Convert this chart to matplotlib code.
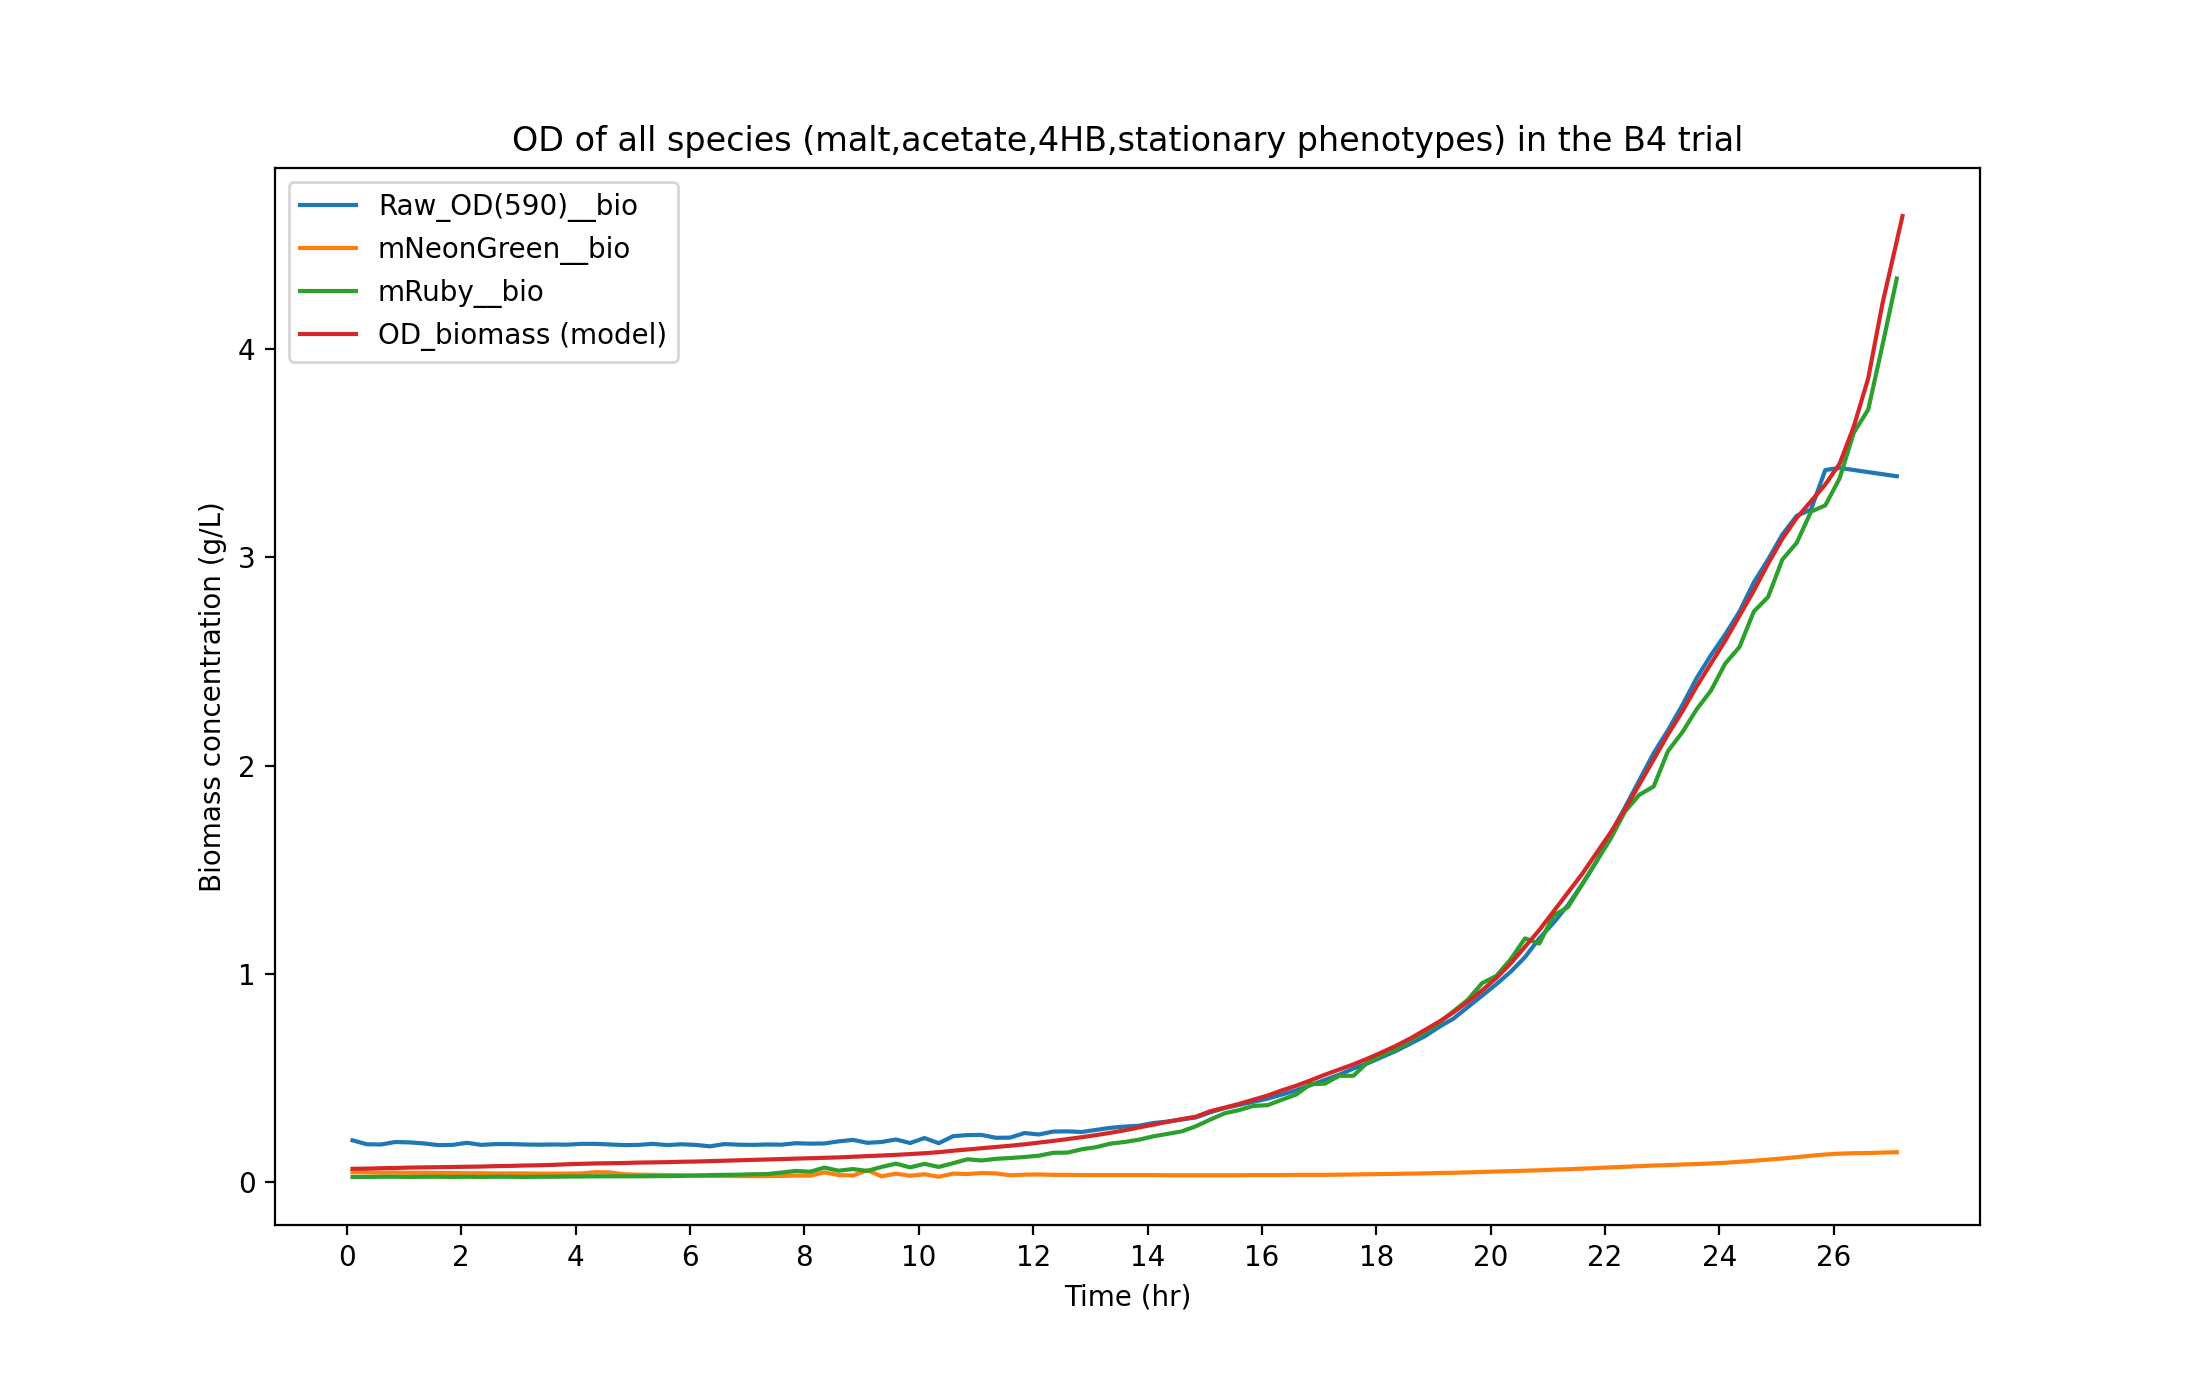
import numpy as np
import matplotlib.pyplot as plt

# sampling grid (hours), every 15 min
time = np.arange(109) * 0.25 + 0.1

raw_od = [
    0.200, 0.181, 0.180, 0.192, 0.190, 0.185, 0.177, 0.178, 0.188, 0.178,
    0.182, 0.182, 0.180, 0.179, 0.180, 0.179, 0.183, 0.183, 0.180, 0.177,
    0.178, 0.183, 0.177, 0.181, 0.178, 0.171, 0.182, 0.179, 0.178, 0.180,
    0.179, 0.186, 0.184, 0.185, 0.195, 0.202, 0.188, 0.192, 0.204, 0.187,
    0.211, 0.186, 0.220, 0.225, 0.226, 0.212, 0.213, 0.235, 0.228, 0.242,
    0.243, 0.240, 0.250, 0.260, 0.266, 0.270, 0.283, 0.290, 0.300, 0.310,
    0.335, 0.355, 0.370, 0.385, 0.400, 0.420, 0.440, 0.465, 0.490, 0.515,
    0.545, 0.570, 0.600, 0.630, 0.665, 0.700, 0.745, 0.785, 0.840, 0.895,
    0.950, 1.010, 1.080, 1.170, 1.245, 1.330, 1.430, 1.540, 1.675, 1.800,
    1.930, 2.060, 2.170, 2.290, 2.420, 2.530, 2.630, 2.740, 2.880, 2.990,
    3.110, 3.200, 3.230, 3.420, 3.430, 3.420, 3.410, 3.400, 3.390,
]

mneongreen = [
    0.047, 0.046, 0.045, 0.045, 0.044, 0.044, 0.043, 0.043, 0.042, 0.042,
    0.041, 0.041, 0.041, 0.040, 0.040, 0.040, 0.041, 0.047, 0.046, 0.037,
    0.035, 0.034, 0.033, 0.032, 0.030, 0.029, 0.029, 0.028, 0.028, 0.028,
    0.029, 0.031, 0.030, 0.046, 0.033, 0.031, 0.056, 0.027, 0.040, 0.030,
    0.037, 0.025, 0.040, 0.038, 0.043, 0.041, 0.032, 0.035, 0.036, 0.034,
    0.034, 0.033, 0.033, 0.033, 0.033, 0.033, 0.033, 0.032, 0.032, 0.032,
    0.032, 0.032, 0.032, 0.033, 0.033, 0.033, 0.034, 0.034, 0.034, 0.035,
    0.036, 0.037, 0.038, 0.039, 0.040, 0.041, 0.043, 0.044, 0.046, 0.048,
    0.050, 0.052, 0.054, 0.056, 0.059, 0.061, 0.064, 0.067, 0.070, 0.073,
    0.076, 0.079, 0.081, 0.084, 0.086, 0.089, 0.092, 0.097, 0.102, 0.107,
    0.113, 0.119, 0.126, 0.132, 0.136, 0.138, 0.139, 0.141, 0.143,
]

mruby = [
    0.024, 0.024, 0.025, 0.025, 0.024, 0.025, 0.025, 0.024, 0.025, 0.024,
    0.025, 0.025, 0.024, 0.025, 0.025, 0.026, 0.026, 0.027, 0.027, 0.027,
    0.027, 0.028, 0.028, 0.029, 0.031, 0.033, 0.034, 0.035, 0.037, 0.038,
    0.045, 0.053, 0.049, 0.069, 0.054, 0.062, 0.053, 0.072, 0.088, 0.070,
    0.087, 0.072, 0.090, 0.109, 0.103, 0.111, 0.115, 0.120, 0.126, 0.140,
    0.141, 0.157, 0.167, 0.184, 0.192, 0.203, 0.219, 0.231, 0.243, 0.268,
    0.300, 0.330, 0.345, 0.365, 0.369, 0.395, 0.420, 0.470, 0.472, 0.510,
    0.510, 0.575, 0.610, 0.637, 0.680, 0.720, 0.765, 0.820, 0.875, 0.955,
    0.990, 1.070, 1.170, 1.145, 1.280, 1.320, 1.430, 1.540, 1.650, 1.780,
    1.860, 1.900, 2.070, 2.160, 2.270, 2.360, 2.490, 2.570, 2.740, 2.810,
    2.990, 3.070, 3.220, 3.250, 3.380, 3.600, 3.710, 4.020, 4.340,
]

# model curve runs a little past the last measurement
time_model = np.append(time, 27.2)
od_model = [
    0.063, 0.064, 0.066, 0.067, 0.069, 0.070, 0.071, 0.072, 0.073, 0.074,
    0.076, 0.077, 0.079, 0.080, 0.082, 0.085, 0.087, 0.089, 0.090, 0.091,
    0.093, 0.094, 0.095, 0.097, 0.098, 0.100, 0.102, 0.104, 0.106, 0.108,
    0.110, 0.112, 0.114, 0.116, 0.118, 0.121, 0.124, 0.127, 0.130, 0.134,
    0.138, 0.143, 0.150, 0.156, 0.162, 0.168, 0.174, 0.181, 0.189, 0.197,
    0.206, 0.215, 0.225, 0.236, 0.248, 0.262, 0.275, 0.289, 0.302, 0.314,
    0.340, 0.357, 0.375, 0.395, 0.415, 0.440, 0.462, 0.488, 0.515, 0.540,
    0.565, 0.593, 0.623, 0.655, 0.690, 0.730, 0.770, 0.815, 0.865, 0.920,
    0.980, 1.050, 1.130, 1.210, 1.300, 1.390, 1.480, 1.580, 1.680, 1.790,
    1.910, 2.030, 2.150, 2.260, 2.380, 2.490, 2.600, 2.720, 2.840, 2.970,
    3.090, 3.190, 3.270, 3.350, 3.450, 3.630, 3.860, 4.220, 4.520, 4.640,
]

fig, ax = plt.subplots(figsize=(11, 7), dpi=200)
fig.subplots_adjust(bottom=0.125)

ax.plot(time, raw_od, label="Raw_OD(590)__bio")
ax.plot(time, mneongreen, label="mNeonGreen__bio")
ax.plot(time, mruby, label="mRuby__bio")
ax.plot(time_model, od_model, label="OD_biomass (model)")

ax.set_xticks(np.arange(0, 27, 2))
ax.set_title("OD of all species (malt,acetate,4HB,stationary phenotypes) in the B4 trial")
ax.set_xlabel("Time (hr)")
ax.set_ylabel("Biomass concentration (g/L)")
ax.legend(loc="upper left")

fig.savefig("out.png")
